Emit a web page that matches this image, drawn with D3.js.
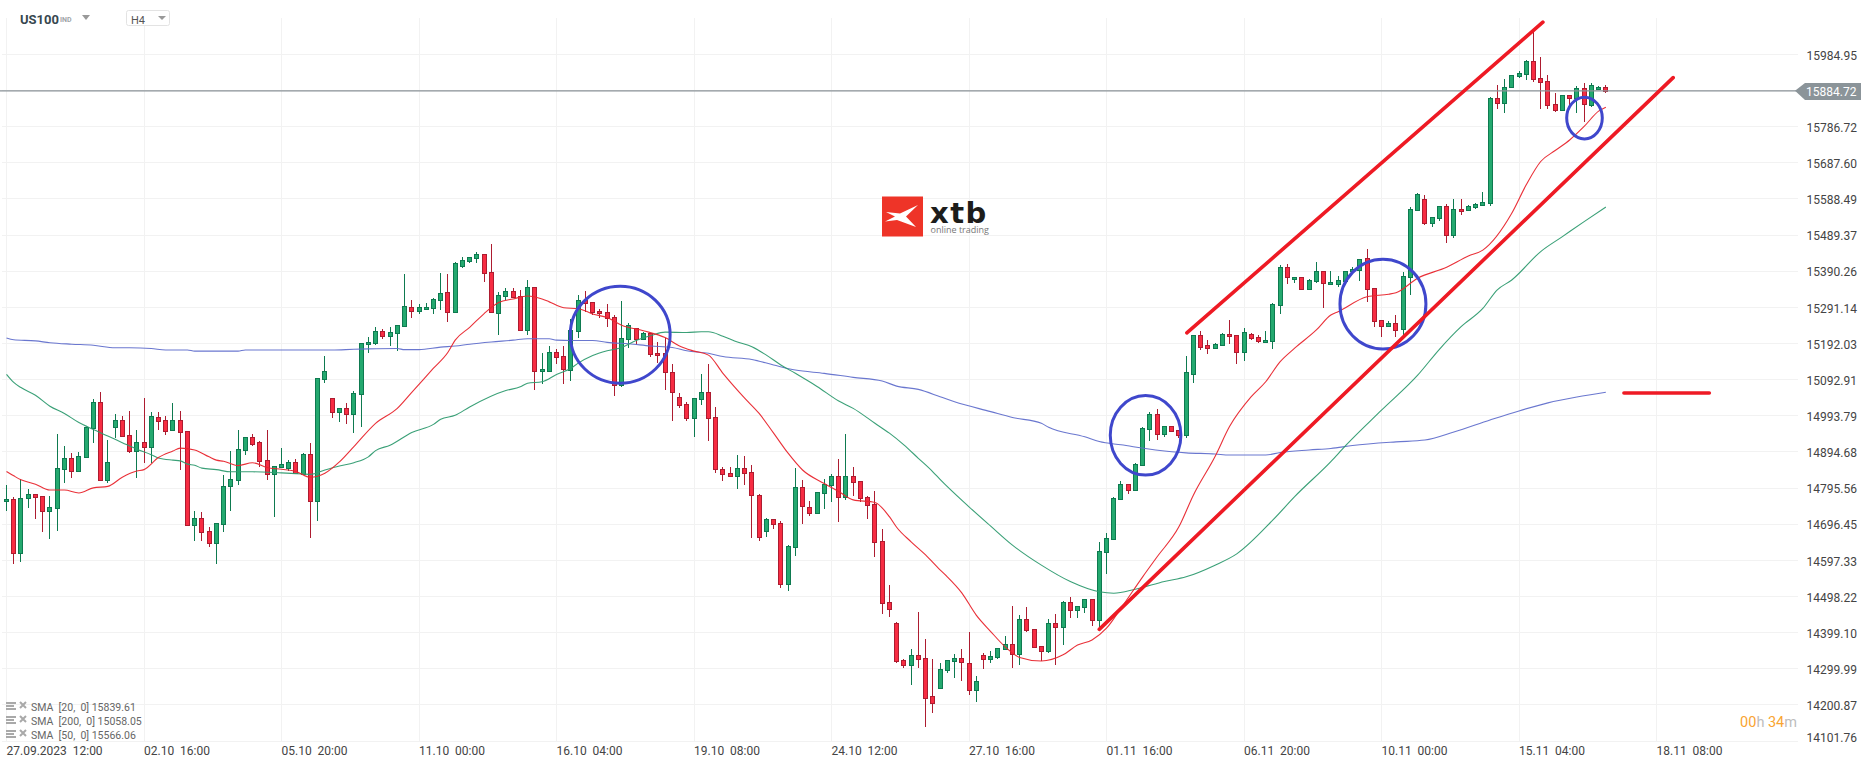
<!DOCTYPE html>
<html><head><meta charset="utf-8">
<script src="https://cdn.jsdelivr.net/npm/d3@7/dist/d3.min.js"></script>
<style>
html,body{margin:0;padding:0;background:#fff;overflow:hidden}
svg{display:block;font-family:Roboto,sans-serif}
text{white-space:pre}
.domain{display:none}
</style></head><body>
<svg id="chart" width="1866" height="767"></svg>
<script>
// ---------- data ----------
const opens=[14758,14764,14616,14767,14778,14773,14731,14739,14847,14877,
14841,14879,14959,15030,14816,14962,14981,14940,14896,14921,
14906,14989,14981,14954,14981,14951,14693,14712,14677,14644,
14696,14800,14817,14899,14934,14921,14871,14833,14852,14849,
14866,14833,14888,14759,15094,15041,15003,15014,14998,15052,
15189,15191,15225,15211,15220,15239,15291,15280,15285,15288,
15310,15332,15277,15403,15417,15424,15436,15387,15276,15320,
15335,15321,15227,15346,15115,15117,15168,15157,15117,15225,
15310,15305,15280,15277,15264,15077,15203,15233,15203,15220,
15165,15165,15113,15044,15025,14987,15039,15058,14989,14847,
14836,14828,14850,14839,14775,14677,14710,14699,14531,14633,
14797,14743,14726,14781,14803,14828,14770,14828,14814,14770,
14751,14649,14482,14424,14323,14309,14337,14328,14224,14246,
14296,14320,14328,14315,14241,14337,14326,14331,14353,14367,
14339,14435,14408,14361,14348,14424,14413,14482,14460,14468,
14490,14433,14619,14655,14764,14806,14789,14858,14956,14998,
14943,14965,14954,14940,15107,15214,15187,15179,15187,15217,
15214,15168,15217,15209,15195,15198,15296,15401,15368,15373,
15340,15362,15390,15354,15354,15362,15390,15392,15425,15343,
15255,15239,15247,15231,15373,15557,15587,15521,15535,15568,
15488,15560,15557,15565,15571,15576,15864,15851,15894,15925,
15930,15966,15919,15911,15848,15831,15872,15864,15892,15845,
15889,15894];
const highs=[14804,14770,14819,14792,14778,14774,14774,14945,14911,14891,
14893,14964,15041,15058,14927,14998,14992,15008,14956,15042,
15003,15004,14992,15028,15006,14951,14732,14729,14688,14700,
14830,14897,14954,14934,14943,14924,14956,14857,14904,14871,
14874,14891,14918,15096,15157,15041,15014,15030,15061,15192,
15211,15236,15231,15236,15242,15382,15310,15299,15302,15316,
15385,15382,15414,15428,15430,15444,15436,15466,15332,15343,
15343,15339,15366,15346,15165,15184,15176,15184,15258,15324,
15335,15305,15286,15299,15269,15308,15247,15233,15224,15220,
15195,15206,15135,15055,15031,15042,15107,15135,15017,14853,
14852,14885,14882,14858,14778,14712,14710,14704,14638,14850,
14817,14759,14784,14819,14833,14874,14943,14852,14814,14775,
14786,14682,14529,14427,14326,14353,14455,14381,14328,14315,
14323,14339,14353,14402,14279,14342,14348,14356,14389,14471,
14446,14468,14408,14361,14435,14449,14485,14498,14471,14490,
14490,14647,14671,14770,14814,14806,14863,14962,15003,15011,
14965,14965,14954,15157,15214,15225,15201,15192,15222,15255,
15214,15233,15220,15214,15225,15302,15406,15409,15373,15373,
15368,15414,15392,15392,15376,15390,15401,15423,15450,15343,
15255,15253,15269,15387,15565,15604,15598,15538,15568,15574,
15587,15587,15571,15576,15606,15867,15900,15916,15927,15938,
15968,16048,15977,15927,15878,15872,15872,15897,15905,15905,
15897,15900];
const lows=[14733,14586,14594,14742,14711,14676,14657,14679,14810,14824,
14840,14879,14920,14816,14810,14932,14936,14891,14824,14865,
14865,14955,14942,14953,14846,14690,14651,14651,14635,14588,
14676,14733,14805,14887,14912,14852,14818,14717,14852,14841,
14833,14830,14659,14706,15083,14988,14977,14972,14947,14964,
15167,15189,15205,15186,15172,15239,15263,15274,15283,15274,
15285,15252,15277,15398,15412,15413,15361,15277,15216,15311,
15316,15227,15216,15063,15082,15117,15137,15082,15090,15208,
15279,15271,15263,15238,15049,15072,15179,15187,15202,15154,
15138,15065,14978,15016,14980,14936,15022,14925,14838,14816,
14828,14794,14805,14659,14651,14662,14682,14520,14514,14610,
14698,14720,14726,14739,14758,14703,14764,14773,14758,14711,
14605,14451,14443,14315,14301,14254,14301,14139,14178,14246,
14287,14275,14267,14229,14208,14299,14317,14326,14350,14303,
14309,14402,14359,14320,14342,14309,14364,14440,14438,14452,
14416,14411,14559,14655,14764,14780,14789,14855,14924,14926,
14936,14951,14934,14932,15084,15173,15162,15176,15184,15190,
15137,15143,15201,15192,15192,15176,15274,15354,15359,15340,
15338,15357,15288,15351,15346,15360,15384,15362,15307,15236,
15209,15236,15209,15206,15324,15554,15518,15510,15527,15467,
15480,15543,15557,15562,15568,15568,15834,15823,15894,15919,
15914,15908,15834,15834,15826,15831,15840,15823,15798,15840,
15886,15878];
const closes=[14764,14616,14767,14778,14770,14731,14743,14849,14877,14841,
14882,14962,15030,14817,14866,14981,14937,14896,14921,14906,
14992,14977,14951,14981,14948,14692,14712,14674,14644,14699,
14800,14819,14902,14934,14915,14869,14833,14855,14860,14866,
14836,14888,14759,15096,15115,15003,15014,14998,15055,15192,
15195,15225,15211,15222,15242,15294,15279,15291,15291,15313,
15329,15277,15412,15420,15428,15436,15384,15277,15324,15335,
15319,15227,15346,15115,15121,15168,15154,15120,15228,15310,
15302,15277,15275,15261,15077,15206,15242,15203,15220,15162,
15159,15113,15058,15022,14987,15042,15058,14987,14847,14833,
14828,14850,14836,14775,14660,14710,14695,14531,14636,14797,
14745,14726,14784,14806,14828,14770,14828,14811,14767,14748,
14647,14479,14463,14320,14309,14337,14326,14219,14205,14298,
14323,14328,14317,14241,14265,14326,14334,14356,14367,14339,
14435,14405,14359,14348,14424,14413,14482,14460,14471,14490,
14433,14622,14658,14767,14806,14789,14860,14959,14998,14943,
14965,14951,14940,15113,15214,15181,15179,15190,15217,15212,
15168,15222,15206,15198,15201,15299,15401,15373,15373,15340,
15365,15390,15357,15359,15365,15390,15395,15423,15340,15253,
15239,15247,15228,15376,15560,15601,15521,15538,15568,15488,
15560,15554,15568,15574,15579,15864,15851,15894,15927,15933,
15966,15916,15908,15845,15831,15872,15864,15892,15848,15900,
15894,15884];

const sma20Index=[0,1,2,4,6,8,10,12,14,16,18,19,21,23,24,26,28,29,30,32,34,36,38,40,42,44,46,48,51,54,56,59,61,62,64,66,68,70,72,74,75,77,79,80,81,83,85,88,91,93,95,97,99,102,104,106,108,110,113,115,117,120,122,123,125,127,129,130,132,134,136,138,140,143,146,148,150,152,154,157,159,162,164,167,169,172,174,176,178,181,183,184,188,191,192,195,199,202,204,208,210,212,214,216,218,220,221];
const sma20Values=[14841,14829,14818,14806,14790,14790,14782,14796,14800,14825,14842,14846,14879,14897,14905,14900,14881,14872,14869,14857,14865,14852,14847,14841,14825,14836,14867,14909,14973,15014,15058,15124,15168,15201,15236,15274,15304,15314,15322,15314,15306,15290,15287,15281,15273,15263,15242,15227,15208,15185,15171,15160,15110,15042,15000,14946,14891,14845,14808,14786,14763,14756,14717,14688,14648,14612,14571,14552,14508,14447,14402,14360,14331,14321,14338,14365,14379,14411,14466,14552,14607,14689,14776,14882,14964,15046,15087,15142,15179,15229,15270,15279,15320,15327,15331,15371,15401,15432,15448,15549,15627,15691,15721,15750,15787,15829,15840];

const sma50Index=[0,1,2,4,6,8,10,12,14,16,18,20,21,23,24,25,26,27,29,31,34,38,41,42,44,46,48,50,51,53,56,59,60,62,64,69,71,72,74,76,78,79,81,83,85,87,89,91,94,96,97,99,101,103,105,107,109,112,115,117,120,122,124,126,128,129,133,136,139,143,147,151,153,156,160,163,167,170,175,178,183,185,190,195,198,201,204,206,208,212,215,218,221];
const sma50Values=[15107,15085,15071,15050,15020,15000,14975,14956,14938,14920,14902,14887,14878,14872,14870,14861,14858,14850,14846,14840,14840,14837,14834,14833,14845,14856,14865,14881,14898,14913,14948,14970,14984,14995,15018,15063,15073,15083,15087,15107,15124,15138,15159,15172,15181,15200,15213,15223,15222,15224,15224,15212,15196,15183,15160,15133,15110,15074,15034,15014,14973,14946,14914,14877,14840,14819,14744,14691,14639,14584,14539,14511,14507,14518,14539,14552,14584,14615,14708,14772,14868,14911,15009,15105,15176,15238,15288,15339,15366,15444,15485,15526,15566];

const sma200Index=[0,1,4,6,9,12,15,17,20,22,25,26,32,33,45,48,50,54,55,57,60,62,64,67,70,72,75,76,78,81,83,86,89,92,94,97,99,103,106,109,113,117,121,123,126,129,131,136,139,143,144,149,151,154,161,163,167,169,174,176,180,183,186,192,196,200,205,209,213,217,221];
const sma200Values=[15207,15202,15199,15194,15190,15187,15180,15180,15178,15174,15174,15171,15171,15174,15174,15176,15177,15178,15175,15175,15182,15185,15190,15196,15201,15205,15205,15201,15200,15200,15195,15191,15185,15181,15172,15165,15156,15148,15133,15119,15110,15099,15089,15075,15066,15046,15032,15005,14989,14973,14962,14936,14923,14914,14895,14892,14889,14886,14886,14893,14900,14904,14912,14922,14927,14949,14982,15007,15029,15045,15058];

const priceTicks=[15984.95,15786.72,15687.60,15588.49,15489.37,15390.26,15291.14,15192.03,15092.91,14993.79,14894.68,14795.56,14696.45,14597.33,14498.22,14399.10,14299.99,14200.87,14101.76];
const hiddenGridPrice=[15885.83];
const lastPrice=15884.72;
const timeTickIndex=[0,19,38,57,76,95,114,133,152,171,190,209,228];
const timeTickLabels=["27.09.2023  12:00","02.10  16:00","05.10  20:00","11.10  00:00","16.10  04:00","19.10  08:00","24.10  12:00","27.10  16:00","01.11  16:00","06.11  20:00","10.11  00:00","15.11  04:00","18.11  08:00"];
const legendLabels=["SMA  [20,  0] 15839.61","SMA  [200,  0] 15058.05","SMA  [50,  0] 15566.06"];

// hand-drawn annotations, in candle index / price units
const trendLines=[[163.1,15221,212.3,16073],[151,14408,230.3,15921],[223.5,15056,235.3,15056]];
const circles=[[84.8,15216,6.9,133],[157.4,14940,4.88,109],[190.2,15300,5.94,123],[218.05,15810,2.46,57]];

// ---------- scales ----------
const svg=d3.select("#chart");
const x=d3.scaleLinear().domain([0,19]).range([6.5,144]);
const y=d3.scaleLinear().domain([14101.76,15984.95]).range([741,54.3]);
const px=v=>Math.floor(v)+.5;
const COL={up:"#24a96f",upLine:"#0e7a50",down:"#f72c42",downLine:"#ad1c30",s20:"#e8252d",s50:"#2f9b70",s200:"#6270cc",grid:"#f2f2f2"};

// grid + axes
const xAxis=d3.axisBottom(x).tickValues(timeTickIndex).tickSize(0).tickPadding(0)
  .tickFormat((d,i)=>timeTickLabels[i]);
const xg=svg.append("g").attr("transform","translate(0,755)").call(xAxis);
xg.selectAll("text").attr("text-anchor","start").attr("dy",0).attr("y",0).attr("x",0)
  .attr("font-size",12).attr("font-family","Roboto").attr("fill","#444");
xg.selectAll(".tick").attr("transform",d=>`translate(${x(d)},0)`);

const yAxis=d3.axisRight(y).tickValues(priceTicks).tickSize(0).tickPadding(0).tickFormat(d3.format(".2f"));
const yg=svg.append("g").attr("transform","translate(1806.5,0)").call(yAxis);
yg.selectAll("text").attr("x",0).attr("dy","0.4em").attr("font-size",12).attr("font-family","Roboto").attr("fill","#444");
yg.selectAll(".tick").filter(d=>d===14101.76).select("text").attr("dy","-0.0em");

const grid=svg.insert("g",":first-child");
grid.selectAll("line.h").data(priceTicks.concat(hiddenGridPrice)).join("line")
  .attr("x1",2).attr("x2",1798).attr("y1",d=>px(y(d))).attr("y2",d=>px(y(d)))
  .attr("stroke",COL.grid).attr("stroke-width",1);
grid.selectAll("line.v").data(timeTickIndex,d=>d).join(enter=>enter.append("line"))
  .attr("x1",d=>px(x(d))).attr("x2",d=>px(x(d))).attr("y1",18).attr("y2",741)
  .attr("stroke",COL.grid).attr("stroke-width",1);

// SMAs behind candles
const smaLine=d3.line().x(d=>x(d[0])).y(d=>y(d[1])).curve(d3.curveMonotoneX);
function drawSma(idx,vals,col){
  svg.append("path").attr("d",smaLine(idx.map((k,i)=>[k,vals[i]])))
    .attr("fill","none").attr("stroke",col).attr("stroke-width",1.1).attr("stroke-opacity",.95);
}

// candles
const idxs=d3.range(opens.length);
const cg=svg.append("g");
drawSma(sma200Index,sma200Values,COL.s200);
drawSma(sma50Index,sma50Values,COL.s50);
cg.selectAll("line").data(idxs).join("line")
  .attr("x1",i=>px(x(i))).attr("x2",i=>px(x(i)))
  .attr("y1",i=>Math.round(y(highs[i]))).attr("y2",i=>Math.round(y(lows[i])))
  .attr("stroke",i=>closes[i]>=opens[i]?COL.upLine:COL.downLine).attr("stroke-width",1);
cg.selectAll("rect").data(idxs).join("rect")
  .attr("x",i=>px(x(i))-2).attr("width",4)
  .attr("y",i=>px(y(Math.max(opens[i],closes[i]))))
  .attr("height",i=>Math.max(1,Math.round(Math.abs(y(opens[i])-y(closes[i])))))
  .attr("fill",i=>closes[i]>=opens[i]?COL.up:COL.down)
  .attr("stroke",i=>closes[i]>=opens[i]?COL.upLine:COL.downLine).attr("stroke-width",1);
drawSma(sma20Index,sma20Values,COL.s20);

// last price line + tag
svg.append("line").attr("x1",0).attr("x2",1798).attr("y1",y(lastPrice)).attr("y2",y(lastPrice))
  .attr("stroke","#8a9297").attr("stroke-width",1.4);
svg.append("path").attr("d",`M1795,${y(lastPrice)} L1805,83 H1861 V100 H1805 Z`).attr("fill","#8b9499");
svg.append("text").attr("x",1806).attr("y",y(lastPrice)+4.8).attr("font-size",12).attr("fill","#fff").text(d3.format(".2f")(lastPrice));

// annotations
svg.append("g").selectAll("ellipse").data(circles).join("ellipse")
  .attr("cx",d=>x(d[0])).attr("cy",d=>y(d[1]))
  .attr("rx",d=>x(d[2])-x(0)).attr("ry",d=>y(0)-y(d[3]))
  .attr("fill","none").attr("stroke","#3f47cc").attr("stroke-width",3);
svg.append("g").selectAll("line").data(trendLines).join("line")
  .attr("x1",d=>x(d[0])).attr("y1",d=>y(d[1])).attr("x2",d=>x(d[2])).attr("y2",d=>y(d[3]))
  .attr("stroke","#ee1a24").attr("stroke-width",3.6).attr("stroke-linecap","round");

// header
svg.append("text").attr("x",20).attr("y",24).attr("font-size",13).attr("font-weight",700).attr("fill","#37474f").text("US100");
svg.append("text").attr("x",60).attr("y",22).attr("font-size",7).attr("font-weight",700).attr("fill","#a0a5a8").text("IND");
svg.append("path").attr("d","M82,15 H90 L86,20 Z").attr("fill","#999");
svg.append("rect").attr("x",126.5).attr("y",10.5).attr("width",43).attr("height",15).attr("rx",2).attr("fill","#fff").attr("stroke","#e3e3e3");
svg.append("text").attr("x",131).attr("y",24).attr("font-size",11).attr("fill","#555").text("H4");
svg.append("path").attr("d","M158,16 H166 L162,20 Z").attr("fill","#999");

// legend
legendLabels.forEach((t,i)=>{
  const cy=[707,721,735][i];
  const g=svg.append("g");
  g.append("path").attr("d",`M6,${cy-5}H16V${cy-3}H6Z M6,${cy-2}H14V${cy}H6Z M6,${cy+1}H16V${cy+3}H6Z`).attr("fill","#a9a9a9");
  g.append("path").attr("d",`M20,${cy-5}L26,${cy+1}M26,${cy-5}L20,${cy+1}`).attr("stroke","#a9a9a9").attr("stroke-width",2);
  g.append("text").attr("x",31).attr("y",cy+3.5).attr("font-size",10.5).attr("fill","#666").text(t);
});

// timer
const timer=svg.append("text").attr("x",1797).attr("y",727).attr("text-anchor","end").attr("font-size",14.5);
timer.append("tspan").attr("fill","#f9a431").text("00");
timer.append("tspan").attr("fill","#bdbdbd").text("h ");
timer.append("tspan").attr("fill","#f9a431").text("34");
timer.append("tspan").attr("fill","#bdbdbd").text("m");

// logo
const logo=svg.append("g");
logo.append("rect").attr("x",882).attr("y",196.5).attr("width",41).attr("height",40).attr("fill","#ee3428");
logo.append("path").attr("d","M886,212 L900,213.5 L918,205 L906,216.5 L916,227 L897,220 L885,221.5 L895,216.5 Z").attr("fill","#fff");
logo.append("text").attr("x",930).attr("y",222.5).attr("font-family","DejaVu Sans").attr("font-weight",700).attr("font-size",29).attr("letter-spacing",1.5).attr("fill","#1d1d1b").text("xtb");
logo.append("text").attr("x",930.5).attr("y",233).attr("font-family","Open Sans").attr("font-size",9).attr("fill","#777").text("online trading");
</script>
</body></html>
